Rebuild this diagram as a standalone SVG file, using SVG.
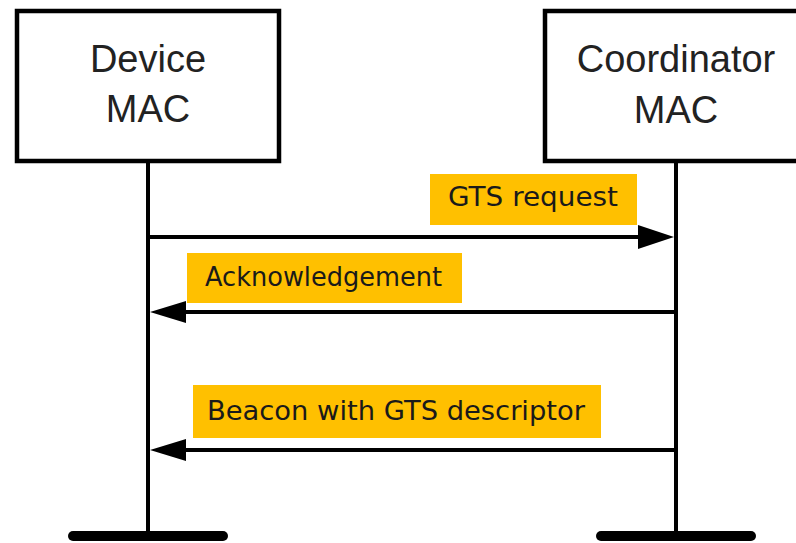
<svg xmlns="http://www.w3.org/2000/svg" width="796" height="543" viewBox="0 0 796 543">
<defs>
<style>
.box{fill:#fff;stroke:#000;stroke-width:4.5}
.title{font-family:"Liberation Sans",Arial,sans-serif;font-size:38px;fill:#222;text-anchor:middle}
.life{stroke:#000;stroke-width:4;fill:none}
.msg{stroke:#000;stroke-width:4;fill:none}
.bar{stroke:#000;stroke-width:10;stroke-linecap:round}
.lbl{fill:#FFC000}
.lt{font-family:"DejaVu Sans","Noto Sans",sans-serif;font-size:26px;fill:#1a1a1a}
.head{fill:#000}
</style>
</defs>
<rect width="796" height="543" fill="#fff"/>
<g id="device">
<rect class="box" x="17" y="11" width="262" height="150"/>
<text class="title" x="148" y="72">Device</text>
<text class="title" x="148" y="122">MAC</text>
<line class="life" x1="148" y1="161" x2="148" y2="536"/>
<line class="bar" x1="73" y1="536" x2="223" y2="536"/>
</g>
<g id="coordinator">
<rect class="box" x="545" y="11" width="300" height="150"/>
<text class="title" x="676" y="72">Coordinator</text>
<text class="title" x="676" y="123">MAC</text>
<line class="life" x1="676" y1="161" x2="676" y2="536"/>
<line class="bar" x1="601" y1="536" x2="751" y2="536"/>
</g>
<g id="connectors">
<g id="msg1">
<line class="msg" x1="148" y1="237" x2="645" y2="237"/>
<polygon class="head" points="638,225 674,237 638,249"/>
<rect class="lbl" x="430" y="174" width="207" height="51"/>
<text class="lt" x="448" y="206" textLength="170" lengthAdjust="spacingAndGlyphs">GTS request</text>
</g>
<g id="msg2">
<line class="msg" x1="676" y1="312" x2="180" y2="312"/>
<polygon class="head" points="186,301 150,312 186,323"/>
<rect class="lbl" x="187" y="253" width="275" height="50"/>
<text class="lt" x="205" y="286" textLength="237" lengthAdjust="spacingAndGlyphs">Acknowledgement</text>
</g>
<g id="msg3">
<line class="msg" x1="676" y1="450" x2="180" y2="450"/>
<polygon class="head" points="186,439 150,450 186,461"/>
<rect class="lbl" x="193" y="385" width="408" height="53"/>
<text class="lt" x="207" y="420" textLength="378" lengthAdjust="spacingAndGlyphs">Beacon with GTS descriptor</text>
</g>
</g>
</svg>
